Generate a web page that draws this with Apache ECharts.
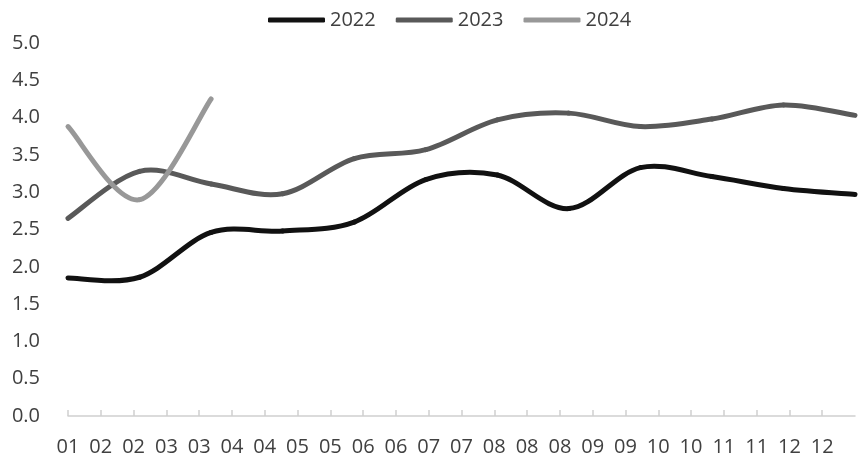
<!DOCTYPE html>
<html>
<head>
<meta charset="utf-8">
<script src="https://cdn.jsdelivr.net/npm/echarts@6/dist/echarts.min.js"></script>
<style>
html,body{margin:0;padding:0;background:#fff;}
#chart{width:863px;height:466px;}
</style>
</head>
<body>
<div id="chart"></div>
<script>
// Data (monthly, Jan..Dec)
var months = [1,2,3,4,5,6,7,8,9,10,11,12];
var tickLabels = ['01','02','02','03','03','04','04','05','05','06','06','07','07','08','08','08','09','09','10','10','11','11','12','12'];
var s2022 = [1.85, 1.86, 2.46, 2.48, 2.60, 3.17, 3.23, 2.78, 3.33, 3.21, 3.05, 2.97];
var s2023 = [2.65, 3.28, 3.11, 2.98, 3.45, 3.57, 3.97, 4.06, 3.88, 3.98, 4.17, 4.03];
var s2024 = [3.88, 2.90, 4.25];
var yTicks = [0, 0.5, 1, 1.5, 2, 2.5, 3, 3.5, 4, 4.5, 5];

var FONT = '"Open Sans", sans-serif';
var COLORS = {'2022': '#111111', '2023': '#595959', '2024': '#989898'};

// Excel-like (Catmull-Rom) spline segment from point i to i+1, drawn through the axes' scales
function splineSeries(name, values) {
  return {
    name: name,
    type: 'custom',
    xAxisIndex: 1,
    yAxisIndex: 0,
    data: values.map(function(v, i){ return [i, v]; }),
    itemStyle: {color: COLORS[name]},
    clip: false,
    renderItem: function(params, api) {
      var i = params.dataIndex;
      if (i >= values.length - 1) return null;
      var p = function(k){
        k = Math.max(0, Math.min(values.length - 1, k));
        return api.coord([k, values[k]]);
      };
      var p0 = p(i - 1), p1 = p(i), p2 = p(i + 1), p3 = p(i + 2);
      var t = 1 / 6;
      return {
        type: 'bezierCurve',
        shape: {
          x1: p1[0], y1: p1[1],
          cpx1: p1[0] + (p2[0] - p0[0]) * t, cpy1: p1[1] + (p2[1] - p0[1]) * t,
          cpx2: p2[0] - (p3[0] - p1[0]) * t, cpy2: p2[1] - (p3[1] - p1[1]) * t,
          x2: p2[0], y2: p2[1]
        },
        style: {stroke: COLORS[name], lineWidth: 5, fill: null, lineCap: 'round'}
      };
    }
  };
}

var chart = echarts.init(document.getElementById('chart'), null, {renderer:'canvas'});
var option = {
  animation: false,
  backgroundColor: '#ffffff',
  textStyle: {fontFamily: FONT},
  legend: {
    top: 5,
    left: 263,
    itemWidth: 57,
    itemHeight: 5,
    itemGap: 20,
    icon: 'roundRect',
    textStyle: {fontSize: 20, color: '#404040', fontFamily: FONT},
    data: ['2022','2023','2024']
  },
  grid: {left: 68, right: 8, top: 43, bottom: 50, containLabel: false},
  xAxis: [{
    type: 'category',
    data: tickLabels.concat(['']),
    boundaryGap: false,
    axisLine: {show: true, lineStyle: {color: '#d0d0d0', width: 1.5}},
    axisTick: {show: true, inside: true, length: 6, lineStyle: {color: '#d0d0d0', width: 1.5},
      interval: function(i){ return i < tickLabels.length; }},
    axisLabel: {interval: 0, fontSize: 20, color: '#404040', margin: 21, fontFamily: FONT},
    splitLine: {show: false}
  }, {
    type: 'value',
    min: 0,
    max: months.length - 1,
    show: false
  }],
  yAxis: {
    type: 'value',
    min: yTicks[0],
    max: yTicks[yTicks.length-1],
    interval: 0.5,
    axisLine: {show: false},
    axisTick: {show: false},
    splitLine: {show: false},
    axisLabel: {fontSize: 20, color: '#404040', margin: 28, fontFamily: FONT,
      formatter: function(v){ return v.toFixed(1); }}
  },
  series: [
    splineSeries('2022', s2022),
    splineSeries('2023', s2023),
    splineSeries('2024', s2024)
  ]
};
chart.setOption(option);
</script>
</body>
</html>
